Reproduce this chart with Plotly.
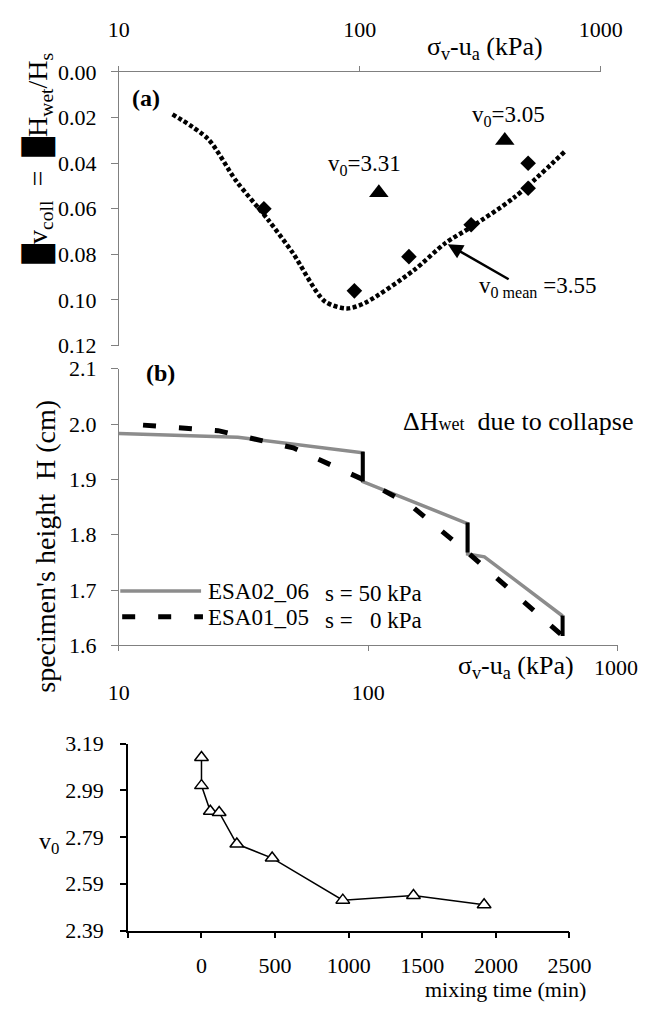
import math
import plotly.graph_objects as go

W, H = 664, 1016
FONT = "Liberation Serif, Times New Roman, Times, serif"
GREY_AXIS = "#808080"

# ---- (a) collapse strain against net vertical stress ----
stress_diamond = [40, 95, 160, 290, 500, 500]
coll_diamond = [0.060, 0.096, 0.081, 0.067, 0.051, 0.040]
stress_triangle = [120, 400]
coll_triangle = [0.053, 0.030]
trend_stress = [16.7, 23.4, 30.7, 41.7, 52.6, 71.6, 88.5, 105, 167, 227, 292, 438, 708]
trend_coll = [0.0186, 0.0293, 0.0478, 0.0649, 0.0792, 0.1006, 0.1037, 0.1013,
              0.0871, 0.075, 0.0678, 0.055, 0.035]
arrow_head = (232, 0.0756)
arrow_tail = (421, 0.0913)

# ---- (b) specimen height against net vertical stress ----
esa02_stress = [10, 30, 95, 95, 250, 250, 292, 601]
esa02_height = [1.983, 1.976, 1.948, 1.896, 1.820, 1.765, 1.760, 1.653]
esa01_stress = [12.5, 25, 50, 95, 146, 190, 250, 601]
esa01_height = [1.998, 1.988, 1.957, 1.900, 1.855, 1.813, 1.768, 1.617]
collapse_stress = [95, 250, 601]
collapse_top = [1.950, 1.822, 1.654]
collapse_bottom = [1.896, 1.768, 1.617]

# ---- (c) initial specific volume against mixing time ----
mixing_time = [0, 0, 60, 120, 240, 480, 960, 1440, 1920]
v0_values = [3.13, 3.01, 2.90, 2.895, 2.76, 2.70, 2.52, 2.54, 2.50]

# tick labels
a_yticks = [0.00, 0.02, 0.04, 0.06, 0.08, 0.10, 0.12]
b_yticks = [1.6, 1.7, 1.8, 1.9, 2.0, 2.1]
log_ticks = [10, 100, 1000]
c_xticks = [-500, 0, 500, 1000, 1500, 2000, 2500]
c_yticks = [2.39, 2.59, 2.79, 2.99, 3.19]


def px(x):
    return x / W


def py(y):
    return 1 - y / H


fig = go.Figure()

fig.add_trace(go.Scatter(
    x=trend_stress, y=trend_coll, mode="lines", xaxis="x", yaxis="y",
    line=dict(color="black", width=4.5, dash="4px,2.5px", shape="spline", smoothing=0.8),
))
fig.add_trace(go.Scatter(
    x=stress_diamond, y=coll_diamond, mode="markers", xaxis="x", yaxis="y",
    marker=dict(symbol="diamond", size=12, color="black"),
))
fig.add_trace(go.Scatter(
    x=stress_triangle, y=coll_triangle, mode="markers", xaxis="x", yaxis="y",
    marker=dict(symbol="triangle-up", size=17, color="black"),
))

fig.add_trace(go.Scatter(
    x=esa02_stress, y=esa02_height, mode="lines", xaxis="x2", yaxis="y2",
    line=dict(color="#8c8c8c", width=3.5),
))
fig.add_trace(go.Scatter(
    x=esa01_stress, y=esa01_height, mode="lines", xaxis="x2", yaxis="y2",
    line=dict(color="black", width=5, dash="13px,23px"),
))
steps_x, steps_y = [], []
for s, top, bot in zip(collapse_stress, collapse_top, collapse_bottom):
    steps_x += [s, s, None]
    steps_y += [top, bot, None]
fig.add_trace(go.Scatter(
    x=steps_x, y=steps_y, mode="lines", xaxis="x2", yaxis="y2",
    line=dict(color="black", width=4), connectgaps=False,
))

fig.add_trace(go.Scatter(
    x=mixing_time, y=v0_values, mode="lines+markers", xaxis="x3", yaxis="y3",
    line=dict(color="black", width=1.5),
    marker=dict(symbol="triangle-up", size=12, color="white",
                line=dict(color="black", width=1.5)),
))

tick_font = dict(family=FONT, size=22, color="black")

fig.update_layout(
    width=W, height=H,
    margin=dict(l=0, r=0, t=0, b=0),
    paper_bgcolor="white", plot_bgcolor="rgba(0,0,0,0)",
    showlegend=False,
    font=dict(family=FONT, color="black"),
    xaxis=dict(
        type="log", range=[1, 3], domain=[px(113.5), px(620.5)], anchor="y", side="top",
        showline=True, linecolor=GREY_AXIS, linewidth=1, showgrid=False, zeroline=False,
        ticks="outside", ticklen=5, tickcolor=GREY_AXIS,
        tickvals=log_ticks, ticktext=[str(v) for v in log_ticks],
        tickfont=tick_font, ticklabelstandoff=20,
    ),
    yaxis=dict(
        range=[0.12, 0], domain=[py(342), py(61.5)], anchor="x",
        showline=True, linecolor=GREY_AXIS, linewidth=1, showgrid=False, zeroline=False,
        ticks="outside", ticklen=7, tickcolor=GREY_AXIS,
        tickvals=a_yticks, ticktext=[f"{v:.2f}" for v in a_yticks],
        tickfont=tick_font, ticklabelstandoff=10,
    ),
    xaxis2=dict(
        type="log", range=[1, 3], domain=[px(113.5), px(638.5)], anchor="y2",
        showline=True, linecolor=GREY_AXIS, linewidth=1, showgrid=False, zeroline=False,
        ticks="outside", ticklen=5, tickcolor=GREY_AXIS,
        tickvals=log_ticks, ticktext=["10", "100", ""],
        tickfont=tick_font, ticklabelstandoff=22,
    ),
    yaxis2=dict(
        range=[1.6, 2.1], domain=[py(649.3), py(365.7)], anchor="x2",
        showline=True, linecolor=GREY_AXIS, linewidth=1, showgrid=False, zeroline=False,
        ticks="outside", ticklen=7, tickcolor=GREY_AXIS,
        tickvals=b_yticks, ticktext=[f"{v:.1f}" for v in b_yticks],
        tickfont=tick_font, ticklabelstandoff=10,
    ),
    xaxis3=dict(
        range=[-500, 2500], domain=[px(123), px(587.7)], anchor="y3",
        showline=True, linecolor="black", linewidth=1.5, showgrid=False, zeroline=False,
        ticks="outside", ticklen=6, tickcolor="black", tickwidth=1.5,
        tickvals=c_xticks, ticktext=["" if v < 0 else str(v) for v in c_xticks],
        tickfont=tick_font, ticklabelstandoff=8,
    ),
    yaxis3=dict(
        range=[2.39, 3.19], domain=[py(941.7), py(750)], anchor="x3",
        showline=True, linecolor="black", linewidth=1.5, showgrid=False, zeroline=False,
        ticks="outside", ticklen=6, tickcolor="black", tickwidth=1.5,
        tickvals=c_yticks, ticktext=[f"{v:.2f}" for v in c_yticks],
        tickfont=tick_font, ticklabelstandoff=12,
    ),
)


def note(text, x, y, size=24, **kw):
    fig.add_annotation(
        text=text, x=px(x), y=py(y), xref="paper", yref="paper",
        showarrow=False, xanchor=kw.pop("xanchor", "center"),
        yanchor=kw.pop("yanchor", "middle"),
        font=dict(family=FONT, size=size, color="black"), **kw,
    )


# panel (a) texts
note("<b>(a)</b>", 142, 88, size=24)
note("σ<sub>v</sub>-u<sub>a</sub> (kPa)", 436, 37, size=26, xanchor="left")
note("v<sub>0</sub>=3.05", 523, 107, size=23)
note("v<sub>0</sub>=3.31", 372, 157, size=23)
note("v<sub>0 mean</sub> =3.55", 554, 282, size=23)
note("█v<sub>coll</sub>&nbsp;&nbsp;=&nbsp;&nbsp;█H<sub>wet</sub>/H<sub>s</sub>", 30, 150,
     size=28, textangle=-90)

fig.add_annotation(
    x=math.log10(arrow_head[0]), y=arrow_head[1], xref="x", yref="y",
    ax=math.log10(arrow_tail[0]), ay=arrow_tail[1], axref="x", ayref="y",
    showarrow=True, arrowhead=2, arrowsize=1.2, arrowwidth=2.5, arrowcolor="black", text="",
)

# panel (b) texts and key
note("<b>(b)</b>", 157, 370, size=24)
note("ΔH<span style='font-size:18px'>wet</span>&nbsp;&nbsp;due to collapse", 534, 420, size=26)
note("σ<sub>v</sub>-u<sub>a</sub> (kPa)", 468, 672, size=26, xanchor="left")
note("1000", 637, 672, size=22)
note("specimen's height&nbsp;&nbsp;H (cm)", 36, 548, size=28, textangle=-90)

fig.add_shape(type="line", xref="paper", yref="paper",
              x0=px(115), x1=px(200), y0=py(593.5), y1=py(593.5),
              line=dict(color="#8c8c8c", width=3.5))
fig.add_shape(type="line", xref="paper", yref="paper",
              x0=px(117), x1=px(202), y0=py(620), y1=py(620),
              line=dict(color="black", width=5, dash="13px,23px"))
note("ESA02_06", 205, 594, size=23, xanchor="left")
note("ESA01_05", 205, 621, size=23, xanchor="left")
note("s = 50 kPa", 328, 596, size=23, xanchor="left")
note("s =&nbsp;&nbsp;&nbsp;0 kPa", 328, 624, size=23, xanchor="left")

# panel (c) texts
note("v<sub>0</sub>", 40, 852, size=24)
note("mixing time (min)", 520, 1017, size=22, yanchor="bottom")

fig.write_html("out.html")
